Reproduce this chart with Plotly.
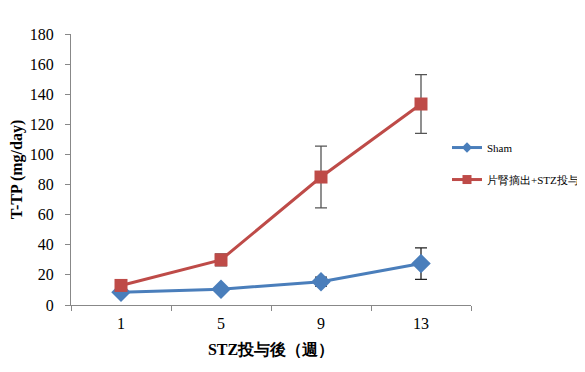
import plotly.graph_objects as go

weeks = ["1", "5", "9", "13"]
sham = [8.5, 10.5, 15.5, 27.5]
sham_err = [0.5, 1.0, 3.0, 10.5]
stz = [13.0, 30.0, 85.0, 133.5]
stz_err = [1.0, 4.0, 20.5, 19.5]
y_ticks = [0, 20, 40, 60, 80, 100, 120, 140, 160, 180]
series_names = ["Sham", "片腎摘出+STZ投与"]

FONT = "Liberation Serif"
BLUE = "#4A7EBB"
RED = "#BE4B48"

fig = go.Figure()
fig.add_trace(go.Scatter(
    x=weeks, y=sham, name=series_names[0], mode="lines+markers", showlegend=False,
    line=dict(color=BLUE, width=3),
    marker=dict(symbol="diamond", size=15, color=BLUE),
    error_y=dict(type="data", array=sham_err, color="#222222", thickness=1.3, width=6),
))
fig.add_trace(go.Scatter(
    x=weeks, y=stz, name=series_names[1], mode="lines+markers", showlegend=False,
    line=dict(color=RED, width=3),
    marker=dict(symbol="square", size=13, color=RED),
    error_y=dict(type="data", array=stz_err, color="#555555", thickness=1.3, width=6),
))
# legend entries
fig.add_trace(go.Scatter(
    x=[None], y=[None], name=series_names[0], mode="lines+markers", legendgroup="a",
    line=dict(color=BLUE, width=3), marker=dict(symbol="diamond", size=8, color=BLUE),
))
fig.add_trace(go.Scatter(
    x=[None], y=[None], name=series_names[1], mode="lines+markers", legendgroup="b",
    line=dict(color=RED, width=3), marker=dict(symbol="square", size=9, color=RED),
))

fig.update_layout(
    width=585, height=372,
    margin=dict(l=63, r=122, t=26, b=75, autoexpand=False),
    paper_bgcolor="white", plot_bgcolor="white",
    font=dict(family=FONT, size=16, color="black"),
    legend=dict(x=0.94, y=0.522, xanchor="left", yanchor="middle",
                font=dict(size=11, family=FONT),
                tracegroupgap=13, bgcolor="rgba(0,0,0,0)", itemwidth=30),
    xaxis=dict(
        type="category", range=[-0.5, 3.5], tickson="boundaries",
        showline=True, linecolor="#888888", linewidth=1,
        ticks="outside", ticklen=5, tickcolor="#888888", ticklabelstandoff=4,
        showgrid=False, zeroline=False,
        title=dict(text="<b>STZ投与後（週）</b>", font=dict(size=16, family=FONT), standoff=12),
    ),
    yaxis=dict(
        range=[0, 180], tickvals=y_ticks,
        showline=True, linecolor="#888888", linewidth=1,
        ticks="outside", ticklen=5, tickcolor="#888888", ticklabelstandoff=8,
        showgrid=False, zeroline=False,
        title=dict(text="<b>T-TP (mg/day)</b>", font=dict(size=16, family=FONT), standoff=4),
    ),
)

fig.write_html("out.html")
